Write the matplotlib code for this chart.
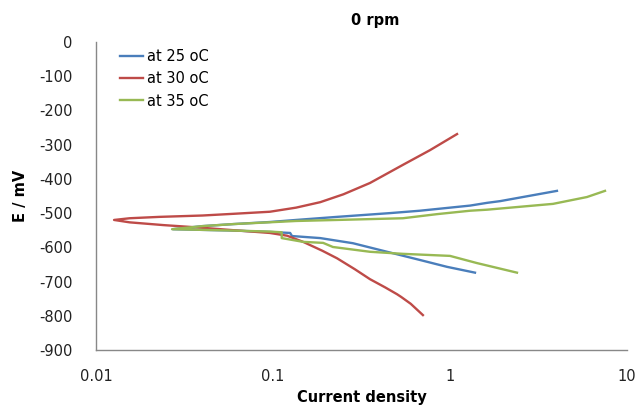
import matplotlib
matplotlib.use("Agg")
import matplotlib.pyplot as plt

# 25 oC: anodic (upper) branch then cathodic (lower) branch
i25_up = [4.02, 1.92, 1.62, 1.30, 0.677, 0.458, 0.230, 0.135, 0.096, 0.06, 0.04, 0.0272]
e25_up = [-435, -465, -470, -478, -493, -500, -511, -520, -526, -532, -538, -547]
i25_dn = [0.0272, 0.04, 0.06, 0.096, 0.125, 0.128, 0.185, 0.283, 0.441, 0.677, 0.962, 1.384]
e25_dn = [-547, -549, -551, -555, -558, -567, -573, -588, -613, -637, -657, -674]

# 30 oC
i30_up = [1.096, 0.771, 0.542, 0.353, 0.25, 0.185, 0.135, 0.096, 0.06, 0.04, 0.0228, 0.0155, 0.01265]
e30_up = [-269, -316, -359, -412, -445, -468, -484, -496, -502, -507, -511, -515, -520]
i30_dn = [0.01265, 0.0155, 0.024, 0.038, 0.06, 0.096, 0.12, 0.148, 0.19, 0.230, 0.29, 0.353,
          0.43, 0.502, 0.53, 0.60, 0.703]
e30_dn = [-520, -527, -535, -542, -550, -558, -566, -584, -610, -632, -664, -693,
          -717, -737, -745, -765, -798]

# 35 oC
i35_up = [7.51, 5.94, 3.82, 1.62, 1.30, 0.845, 0.542, 0.230, 0.135, 0.06, 0.04, 0.0269]
e35_up = [-435, -453, -473, -490, -493, -503, -515, -520, -523, -532, -538, -547]
i35_dn = [0.0269, 0.04, 0.06, 0.096, 0.112, 0.112, 0.148, 0.192, 0.218, 0.353, 0.542, 1.0, 1.42, 2.39]
e35_dn = [-547, -549, -551, -554, -556, -573, -584, -587, -599, -613, -619, -625, -646, -674]

series = [
    ("at 25 oC", i25_up + i25_dn, e25_up + e25_dn, "#4A7EBB"),
    ("at 30 oC", i30_up + i30_dn, e30_up + e30_dn, "#BE4B48"),
    ("at 35 oC", i35_up + i35_dn, e35_up + e35_dn, "#98B954"),
]

plt.rcParams["font.family"] = ["DejaVu Sans"]
plt.rcParams["axes.unicode_minus"] = False
fig = plt.figure(figsize=(6.39, 4.05), dpi=100)
ax = fig.add_axes([96 / 639, 55 / 405, 531 / 639, 308 / 405])

for label, x, y, color in series:
    ax.plot(x, y, color=color, linewidth=1.7, label=label)

ax.set_xscale("log")
ax.set_xlim(0.01, 10)
ax.set_ylim(-900, 0)
ax.set_xticks([0.01, 0.1, 1, 10])
ax.set_xticklabels(["0.01", "0.1", "1", "10"])
ax.set_yticks(range(-900, 1, 100))
ax.minorticks_off()
ax.tick_params(length=0, labelsize=10.5, colors="#222222")
ax.tick_params(axis="y", pad=17)
ax.tick_params(axis="x", pad=14)

for side in ("top", "right"):
    ax.spines[side].set_visible(False)
for side in ("left", "bottom"):
    ax.spines[side].set_color("#888888")
    ax.spines[side].set_linewidth(1.0)

ax.set_xlabel("Current density", fontsize=10.5, fontweight="bold", labelpad=4)
ax.set_ylabel("E / mV", fontsize=10.5, fontweight="bold", labelpad=8)
fig.text(375 / 639, 1 - 20 / 405, "0 rpm", fontsize=10.5, fontweight="bold",
         ha="center", va="center")

ax.legend(loc="upper left", bbox_to_anchor=(0.02, 1.02), frameon=False,
          fontsize=10.5, handlelength=1.6, handletextpad=0.3, labelspacing=0.5)

fig.savefig("out.png", dpi=100)
